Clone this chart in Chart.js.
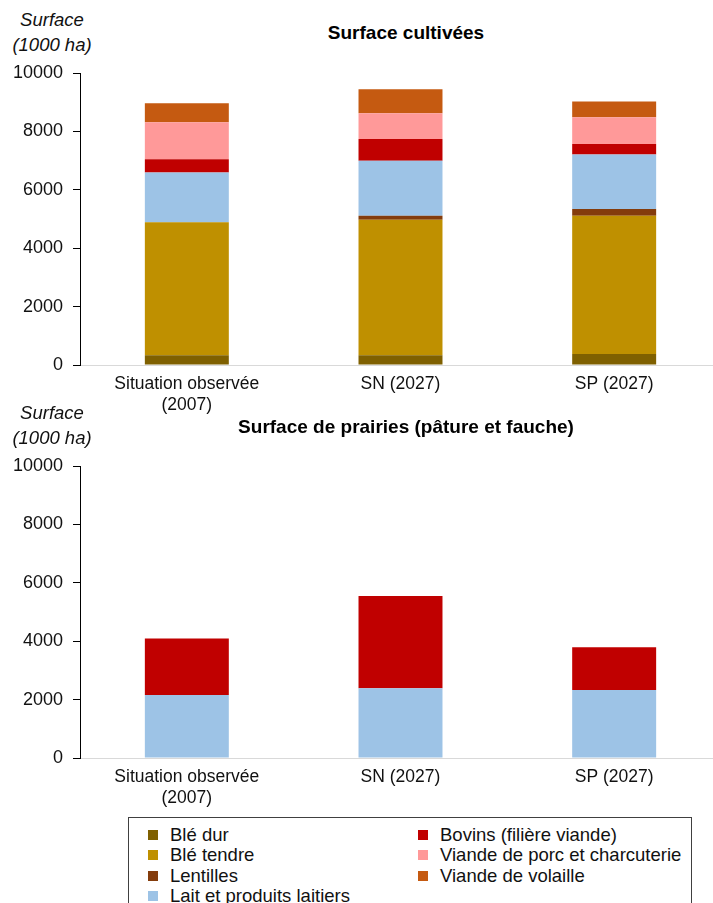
<!DOCTYPE html>
<html>
<head>
<meta charset="utf-8">
<script src="https://cdn.jsdelivr.net/npm/chart.js@4/dist/chart.umd.min.js"></script>
<style>
  html, body { margin:0; padding:0; background:#fff; width:713px; height:903px; overflow:hidden; position:relative; font-family:"Liberation Sans", Arial, sans-serif; }
  .wrap { position:absolute; left:0; width:721px; height:420px; }
  .unit { position:absolute; width:104px; text-align:center; font-style:italic; font-size:18.5px; line-height:25px; color:#111; }
  .title { position:absolute; left:80px; width:652px; text-align:center; font-weight:bold; font-size:19px; line-height:22px; color:#000; }
  .legend { position:absolute; left:128px; top:817px; width:564px; height:100px; border:1px solid #404040; box-sizing:border-box; font-size:18.5px; color:#111; }
  .li { position:absolute; height:20px; line-height:20px; white-space:nowrap; }
  .sw { display:inline-block; width:10px; height:10px; margin-right:12px; vertical-align:1px; }
</style>
</head>
<body>
<div class="unit" style="left:0;top:7px;">Surface<br>(1000 ha)</div>
<div class="title" style="top:22px;">Surface cultivées</div>
<div class="wrap" style="top:0;"><canvas id="c1" width="721" height="420"></canvas></div>

<div class="unit" style="left:0;top:400px;">Surface<br>(1000 ha)</div>
<div class="title" style="top:416px;">Surface de prairies (pâture et fauche)</div>
<div class="wrap" style="top:393px;"><canvas id="c2" width="721" height="420"></canvas></div>

<div class="legend" id="legend"></div>

<script>
const categories = [["Situation observée", "(2007)"], "SN (2027)", "SP (2027)"];
const yTicks = [0, 2000, 4000, 6000, 8000, 10000];

// Surface cultivées (1000 ha)
const bleDur    = [330, 330, 375];
const bleTendre = [4560, 4645, 4740];
const lentilles = [0, 135, 230];
const lait      = [1700, 1885, 1860];
const bovins    = [455, 745, 365];
const porc      = [1270, 880, 915];
const volaille  = [650, 820, 535];

// Surface de prairies (1000 ha)
const laitPrairie   = [2160, 2385, 2330];
const bovinsPrairie = [1935, 3165, 1460];

const seriesNames = ["Blé dur", "Blé tendre", "Lentilles", "Lait et produits laitiers",
                     "Bovins (filière viande)", "Viande de porc et charcuterie", "Viande de volaille"];
const colors = ["#7f6000", "#bf9000", "#843c0c", "#9dc3e6", "#c00000", "#ff9999", "#c55a11"];

function ds(label, data, color) {
  return { label, data, backgroundColor: color, borderWidth: 0,
           barPercentage: 0.393, categoryPercentage: 1.0 };
}

function opts() {
  return {
    responsive: false,
    animation: false,
    layout: { padding: { top: 73, left: 0, right: 0, bottom: 0 } },
    plugins: { legend: { display: false }, title: { display: false }, tooltip: { enabled: false } },
    scales: {
      x: {
        stacked: true,
        grid: { display: false, drawTicks: false },
        border: { display: true, color: "#d9d9d9", width: 1 },
        ticks: { color: "#111", font: { family: "Liberation Sans", size: 17.5 }, padding: 9, maxRotation: 0 },
        afterFit: s => { s.height = 55; }
      },
      y: {
        stacked: true,
        min: 0, max: 10000,
        afterBuildTicks: s => { s.ticks = yTicks.map(v => ({ value: v })); },
        grid: { display: true, drawOnChartArea: false, drawTicks: true, tickLength: 7, color: "#000" },
        border: { display: true, color: "#000", width: 1 },
        ticks: { color: "#111", font: { family: "Liberation Sans", size: 18 }, padding: 10,
                 callback: v => String(v) },
        afterFit: s => { s.width = 80; }
      }
    }
  };
}

new Chart(document.getElementById("c1"), {
  type: "bar",
  data: {
    labels: categories,
    datasets: [
      ds(seriesNames[0], bleDur, colors[0]),
      ds(seriesNames[1], bleTendre, colors[1]),
      ds(seriesNames[2], lentilles, colors[2]),
      ds(seriesNames[3], lait, colors[3]),
      ds(seriesNames[4], bovins, colors[4]),
      ds(seriesNames[5], porc, colors[5]),
      ds(seriesNames[6], volaille, colors[6])
    ]
  },
  options: opts()
});

new Chart(document.getElementById("c2"), {
  type: "bar",
  data: {
    labels: categories,
    datasets: [
      ds(seriesNames[3], laitPrairie, colors[3]),
      ds(seriesNames[4], bovinsPrairie, colors[4])
    ]
  },
  options: opts()
});

// legend (two columns)
const leg = document.getElementById("legend");
const pos = [[0,0],[0,1],[0,2],[0,3],[1,0],[1,1],[1,2]];
seriesNames.forEach((n, i) => {
  const d = document.createElement("div");
  d.className = "li";
  d.style.left = (pos[i][0] ? 289 : 19) + "px";
  d.style.top = (7 + pos[i][1] * 20.3) + "px";
  d.innerHTML = '<span class="sw" style="background:' + colors[i] + '"></span>' + n;
  leg.appendChild(d);
});
</script>
</body>
</html>
